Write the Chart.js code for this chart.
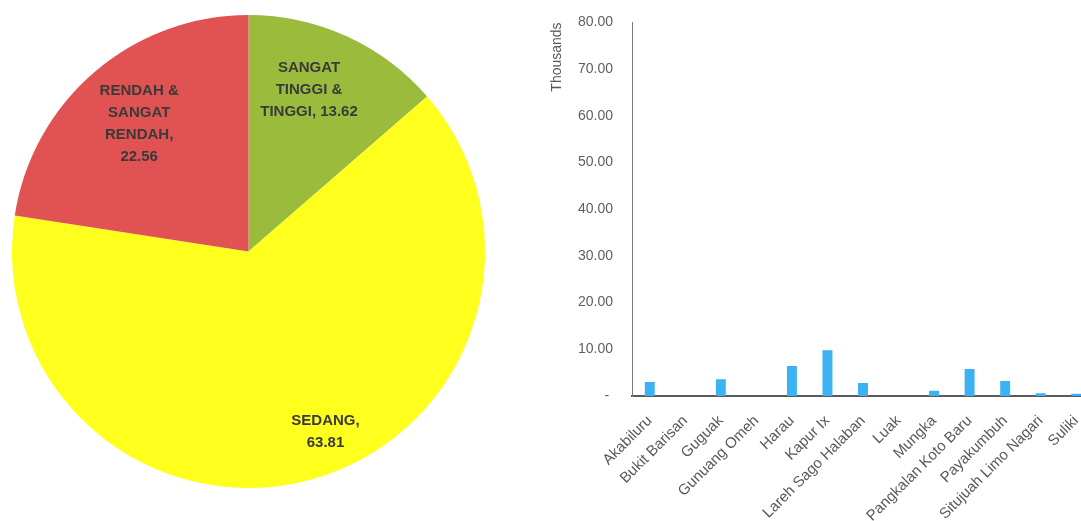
<!DOCTYPE html>
<html>
<head>
<meta charset="utf-8">
<script src="https://cdn.jsdelivr.net/npm/chart.js@4/dist/chart.umd.min.js"></script>
<style>
  html, body { margin: 0; padding: 0; background: #fff; overflow: hidden; }
  body { width: 1081px; height: 521px; position: relative; }
  #pieBox { position: absolute; left: 12px; top: 15px; width: 473px; height: 473px; }
  #barBox { position: absolute; left: 540px; top: 3px; width: 560px; height: 518px; }
</style>
</head>
<body>
<div id="pieBox"><canvas id="pieChart"></canvas></div>
<div id="barBox"><canvas id="barChart"></canvas></div>
<script>
// 饼图数据
const pieNames = ['SANGAT TINGGI & TINGGI', 'SEDANG', 'RENDAH & SANGAT RENDAH'];
const pieValues = [13.62, 63.81, 22.56];
const pieColors = ['#9bbb3c', '#ffff1e', '#e05352'];

// 柱状图数据 (Thousands)
const kecamatan = ['Akabiluru', 'Bukit Barisan', 'Guguak', 'Gunuang Omeh', 'Harau', 'Kapur Ix',
  'Lareh Sago Halaban', 'Luak', 'Mungka', 'Pangkalan Koto Baru', 'Payakumbuh',
  'Situjuah Limo Nagari', 'Suliki'];
const barValues = [3.0, 0, 3.6, 0, 6.4, 9.8, 2.8, 0, 1.1, 5.8, 3.2, 0.6, 0.5];
const yTicks = [0, 10, 20, 30, 40, 50, 60, 70, 80];

Chart.defaults.font.family = '"Liberation Sans", Arial, sans-serif';

// label placement inside slices: [radius fraction, angle shift in degrees]
const labelPlace = [[0.73, -4], [0.83, -7], [0.71, 0]];

const pieLabels = {
  id: 'pieLabels',
  afterDatasetsDraw(chart) {
    const ctx = chart.ctx;
    const meta = chart.getDatasetMeta(0);
    ctx.save();
    ctx.font = 'bold 15px "Liberation Sans", Arial, sans-serif';
    ctx.fillStyle = '#3a3a3a';
    ctx.textAlign = 'center';
    ctx.textBaseline = 'middle';
    meta.data.forEach((arc, i) => {
      const p = arc.getProps(['x', 'y', 'startAngle', 'endAngle', 'outerRadius'], true);
      const ang = (p.startAngle + p.endAngle) / 2 + labelPlace[i][1] * Math.PI / 180;
      const r = p.outerRadius * labelPlace[i][0];
      const cx = p.x + Math.cos(ang) * r;
      const cy = p.y + Math.sin(ang) * r;
      // 自动换行
      const words = (pieNames[i] + ', ' + pieValues[i].toFixed(2)).split(' ');
      const lines = [];
      let cur = '';
      words.forEach(w => {
        const test = cur ? cur + ' ' + w : w;
        if (cur && ctx.measureText(test).width > 102) {
          lines.push(cur);
          cur = w;
        } else {
          cur = test;
        }
      });
      lines.push(cur);
      const lh = 22;
      lines.forEach((ln, k) => {
        ctx.fillText(ln, cx, cy + (k - (lines.length - 1) / 2) * lh);
      });
    });
    ctx.restore();
  }
};

new Chart(document.getElementById('pieChart'), {
  type: 'pie',
  data: {
    labels: pieNames,
    datasets: [{
      data: pieValues,
      backgroundColor: pieColors,
      borderWidth: 0
    }]
  },
  options: {
    responsive: true,
    maintainAspectRatio: false,
    animation: false,
    layout: { padding: 0 },
    plugins: {
      legend: { display: false },
      tooltip: { enabled: false }
    }
  },
  plugins: [pieLabels]
});

new Chart(document.getElementById('barChart'), {
  type: 'bar',
  data: {
    labels: kecamatan,
    datasets: [{
      data: barValues,
      backgroundColor: '#3cb2f2',
      categoryPercentage: 0.28,
      barPercentage: 1.0
    }]
  },
  options: {
    responsive: true,
    maintainAspectRatio: false,
    animation: false,
    layout: { padding: { top: 10, right: 6, left: 0, bottom: 0 } },
    plugins: {
      legend: { display: false },
      tooltip: { enabled: false }
    },
    scales: {
      x: {
        grid: { display: false },
        border: { display: true, color: '#5a5a5a', width: 2 },
        ticks: {
          autoSkip: false,
          maxRotation: 45,
          minRotation: 45,
          padding: 8,
          color: '#595959',
          font: { size: 15 }
        },
        afterFit(scale) { scale.height = 125; }
      },
      y: {
        min: 0,
        max: 80,
        afterBuildTicks(scale) { scale.ticks = yTicks.map(v => ({ value: v })); },
        grid: { display: false },
        border: { display: true, color: '#7a7a7a', width: 1 },
        ticks: {
          padding: 11,
          color: '#5f5f5f',
          font: { size: 14 },
          callback: v => v === 0 ? '- ' : v.toFixed(2)
        },
        title: {
          display: true,
          text: 'Thousands',
          align: 'end',
          color: '#595959',
          font: { size: 14 },
          padding: { top: 9, bottom: 0 }
        },
        afterFit(scale) { scale.width = 92; }
      }
    }
  }
});
</script>
</body>
</html>
